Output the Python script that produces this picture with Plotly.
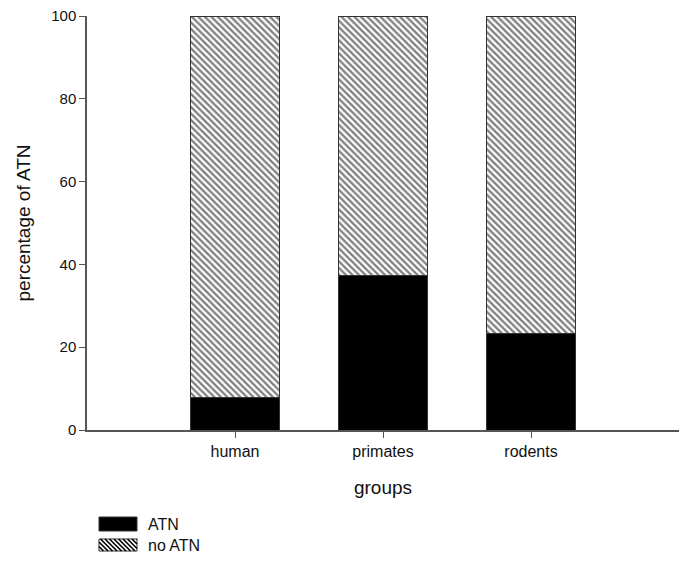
import plotly.graph_objects as go

groups = ["human", "primates", "rodents"]
atn = [7.9, 37.2, 23.2]
no_atn = [100 - v for v in atn]
y_ticks = [0, 20, 40, 60, 80, 100]
legend_labels = ["ATN", "no ATN"]

FONT = "Liberation Sans, Arial, sans-serif"
W, H = 685, 563
L, R, T, B = 87, 6, 16, 133
PW, PH = W - L - R, H - T - B


def px(xp):
    return (xp - L) / PW


def py(yp):
    return (H - B - yp) / PH


fig = go.Figure()
fig.add_trace(go.Bar(
    x=groups, y=atn, name=legend_labels[0], width=0.6,
    marker=dict(color="black", line=dict(color="#333333", width=1)),
))
fig.add_trace(go.Bar(
    x=groups, y=no_atn, name=legend_labels[1], width=0.6,
    marker=dict(color="white", line=dict(color="#333333", width=1),
                pattern=dict(shape="\\", fgcolor="black", bgcolor="white",
                             size=4.6, solidity=0.5)),
))

# custom legend swatches (paper coordinates)
shapes = []
sw_x0, sw_x1 = 99, 137
boxes = [(517, 531), (539, 551)]
shapes.append(dict(type="rect", xref="paper", yref="paper",
                   x0=px(sw_x0), x1=px(sw_x1), y0=py(boxes[0][1]), y1=py(boxes[0][0]),
                   fillcolor="black", line=dict(color="#333333", width=1)))
y0b, y1b = boxes[1]
shapes.append(dict(type="rect", xref="paper", yref="paper",
                   x0=px(sw_x0), x1=px(sw_x1), y0=py(y1b), y1=py(y0b),
                   fillcolor="white", line=dict(color="#333333", width=1)))
step = 4.5
c = sw_x0 - (y1b - y0b)
while c < sw_x1:
    xa, ya = c, y0b
    xb, yb = c + (y1b - y0b), y1b
    if xa < sw_x0:
        ya = y0b + (sw_x0 - xa)
        xa = sw_x0
    if xb > sw_x1:
        yb = y1b - (xb - sw_x1)
        xb = sw_x1
    if xb > xa:
        shapes.append(dict(type="line", xref="paper", yref="paper",
                           x0=px(xa), y0=py(ya), x1=px(xb), y1=py(yb),
                           line=dict(color="black", width=1.6)))
    c += step

annotations = []
for lab, (ya, yb) in zip(legend_labels, boxes):
    annotations.append(dict(text=lab, xref="paper", yref="paper",
                            x=px(146), y=py((ya + yb) / 2), xanchor="left", yanchor="middle",
                            showarrow=False, font=dict(size=16, family=FONT, color="#111111")))

fig.update_layout(
    barmode="stack",
    width=W, height=H,
    margin=dict(l=L, r=R, t=T, b=B),
    paper_bgcolor="white", plot_bgcolor="white",
    font=dict(family=FONT, size=15, color="#111111"),
    showlegend=False,
    shapes=shapes,
    annotations=annotations,
    xaxis=dict(
        type="category", range=[-1, 3], automargin=False,
        showline=True, linecolor="#555555", linewidth=1.5,
        ticks="outside", ticklen=6, tickcolor="#555555", tickwidth=1,
        showgrid=False, zeroline=False,
        tickfont=dict(size=16),
        title=dict(text="groups", font=dict(size=19), standoff=22),
    ),
    yaxis=dict(
        range=[0, 100], tickvals=y_ticks, automargin=False,
        showline=True, linecolor="#555555", linewidth=1.5,
        ticks="outside", ticklen=6, tickcolor="#555555", tickwidth=1,
        showgrid=False, zeroline=False,
        tickfont=dict(size=15),
        title=dict(text="percentage of ATN", font=dict(size=19), standoff=16),
    ),
)

fig.write_html("out.html", config={"displayModeBar": False},
               post_script="document.body.style.margin='0';")
